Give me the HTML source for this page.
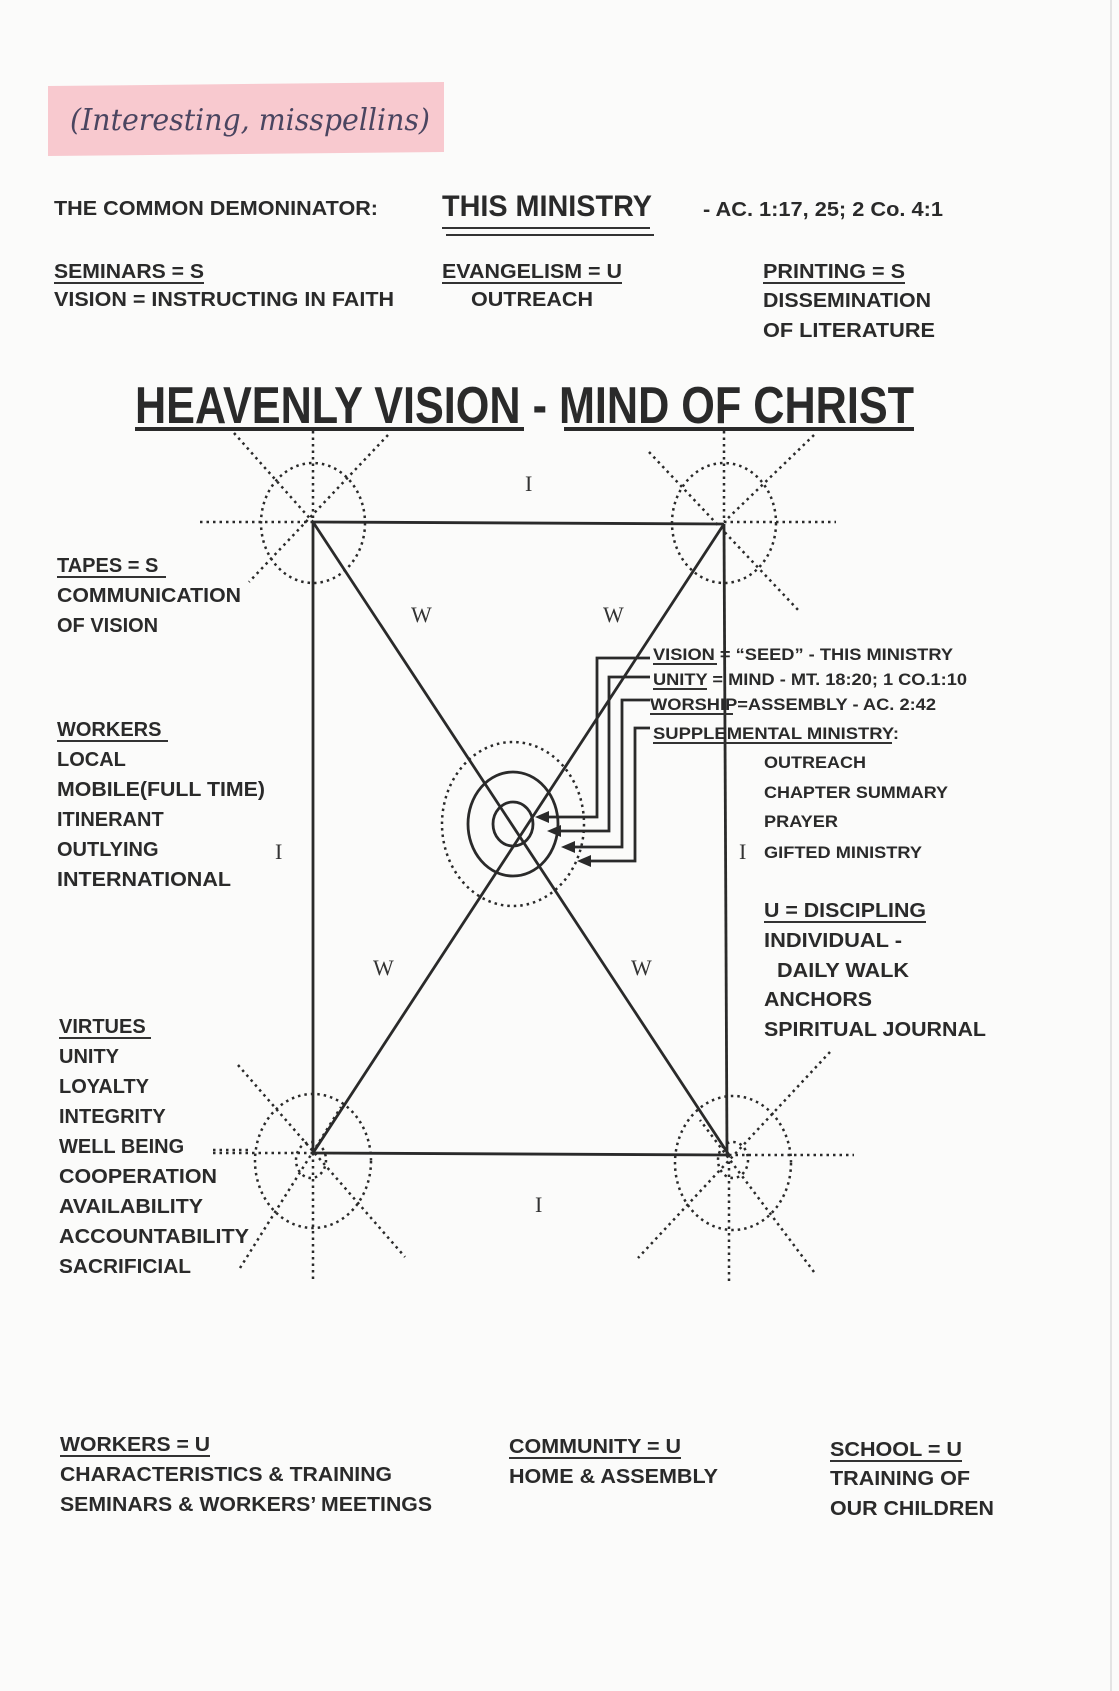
<!DOCTYPE html>
<html><head><meta charset="utf-8"><style>
html,body{margin:0;padding:0;background:#fbfbfa;}
svg{display:block;}
text{font-family:"Liberation Sans",Arial,sans-serif;fill:#2a2a2a;}
.t{font-size:20px;font-weight:bold;}
.s{font-size:17px;font-weight:bold;}
.r{font-family:"Liberation Serif",serif;font-size:22px;font-weight:normal;fill:#333;}
</style></head><body>
<svg width="1119" height="1691" viewBox="0 0 1119 1691" xmlns="http://www.w3.org/2000/svg">
<rect width="1119" height="1691" fill="#fbfbfa"/>
<line x1="1111" y1="0" x2="1111" y2="1691" stroke="#e4e4e4" stroke-width="2"/>
<polygon points="48,86 444,82 444,152 48,156" fill="#f8c9cf"/>
<text x="70" y="130" style="font-family:'DejaVu Serif',serif;font-style:italic;font-size:30px;fill:#4a4560" textLength="360" lengthAdjust="spacingAndGlyphs">(Interesting, misspellins)</text>

<text class="t" x="54" y="215" textLength="324" lengthAdjust="spacingAndGlyphs">THE COMMON DEMONINATOR:</text>
<text x="442" y="216" style="font-size:30px;font-weight:bold" textLength="210" lengthAdjust="spacingAndGlyphs">THIS MINISTRY</text>
<line x1="442" y1="228" x2="650" y2="228" stroke="#333" stroke-width="2"/>
<line x1="446" y1="235" x2="654" y2="235" stroke="#333" stroke-width="2"/>
<text class="t" x="703" y="216" textLength="240" lengthAdjust="spacingAndGlyphs">- AC. 1:17, 25; 2 Co. 4:1</text>

<text class="t" x="54" y="278" textLength="150" lengthAdjust="spacingAndGlyphs">SEMINARS = S</text>
<line x1="54" y1="283" x2="204" y2="283" stroke="#333" stroke-width="2"/>
<text class="t" x="54" y="306" textLength="340" lengthAdjust="spacingAndGlyphs">VISION = INSTRUCTING IN FAITH</text>
<text class="t" x="442" y="278" textLength="180" lengthAdjust="spacingAndGlyphs">EVANGELISM = U</text>
<line x1="442" y1="283" x2="622" y2="283" stroke="#333" stroke-width="2"/>
<text class="t" x="471" y="306" textLength="122" lengthAdjust="spacingAndGlyphs">OUTREACH</text>
<text class="t" x="763" y="278" textLength="142" lengthAdjust="spacingAndGlyphs">PRINTING = S</text>
<line x1="763" y1="283" x2="905" y2="283" stroke="#333" stroke-width="2"/>
<text class="t" x="763" y="307" textLength="168" lengthAdjust="spacingAndGlyphs">DISSEMINATION</text>
<text class="t" x="763" y="337" textLength="172" lengthAdjust="spacingAndGlyphs">OF LITERATURE</text>

<text x="135" y="423" style="font-size:52px;font-weight:bold" textLength="779" lengthAdjust="spacingAndGlyphs">HEAVENLY VISION - MIND OF CHRIST</text>
<line x1="135" y1="429" x2="524" y2="429" stroke="#2a2a2a" stroke-width="4"/>
<line x1="564" y1="429" x2="914" y2="429" stroke="#2a2a2a" stroke-width="4"/>

<g fill="none" stroke="#2a2a2a" stroke-width="2.5" stroke-dasharray="2.5 4">
  <ellipse cx="313" cy="523" rx="52" ry="60"/>
  <line x1="313" y1="431" x2="313" y2="522"/>
  <line x1="200" y1="522" x2="313" y2="522"/>
  <line x1="234" y1="433" x2="313" y2="522"/>
  <line x1="388" y1="435" x2="249" y2="582"/>
  <ellipse cx="724" cy="523" rx="52" ry="60"/>
  <line x1="724" y1="431" x2="724" y2="522"/>
  <line x1="724" y1="522" x2="836" y2="522"/>
  <line x1="649" y1="452" x2="800" y2="612"/>
  <line x1="814" y1="435" x2="724" y2="522"/>
  <ellipse cx="313" cy="1161" rx="58" ry="67"/>
  <ellipse cx="311" cy="1160" rx="15" ry="18"/>
  <line x1="313" y1="1153" x2="313" y2="1283"/>
  <line x1="213" y1="1153" x2="313" y2="1153"/>
  <line x1="238" y1="1065" x2="405" y2="1257"/>
  <line x1="240" y1="1268" x2="341" y2="1107"/>
  <ellipse cx="733" cy="1163" rx="58" ry="67"/>
  <ellipse cx="733" cy="1160" rx="15" ry="18"/>
  <line x1="729" y1="1155" x2="729" y2="1285"/>
  <line x1="729" y1="1155" x2="854" y2="1155"/>
  <line x1="830" y1="1052" x2="638" y2="1258"/>
  <line x1="814" y1="1272" x2="700" y2="1120"/>
  <ellipse cx="513" cy="824" rx="71" ry="82"/>
</g>

<g fill="none" stroke="#2a2a2a" stroke-width="2.8">
  <line x1="313" y1="522" x2="724" y2="524"/>
  <line x1="313" y1="1153" x2="729" y2="1155"/>
  <line x1="313" y1="522" x2="313" y2="1153"/>
  <line x1="724" y1="524" x2="727" y2="1155"/>
  <line x1="313" y1="522" x2="729" y2="1155"/>
  <line x1="724" y1="524" x2="313" y2="1153"/>
  <ellipse cx="513" cy="824" rx="45" ry="52"/>
  <ellipse cx="513" cy="824" rx="20" ry="22"/>
  <polyline points="650,658 597,658 597,817 540,817"/>
  <polyline points="650,677 609,677 609,831 552,831"/>
  <polyline points="650,700 622,700 622,847 566,847"/>
  <polyline points="650,728 635,728 635,861 582,861"/>
</g>
<g fill="#2a2a2a">
  <polygon points="535,817 549,811 549,823"/>
  <polygon points="547,831 561,825 561,837"/>
  <polygon points="561,847 575,841 575,853"/>
  <polygon points="577,861 591,855 591,867"/>
</g>

<text class="r" x="525" y="491">I</text>
<text class="r" x="275" y="859">I</text>
<text class="r" x="739" y="859">I</text>
<text class="r" x="535" y="1212">I</text>
<text class="r" x="411" y="622">W</text>
<text class="r" x="603" y="622">W</text>
<text class="r" x="373" y="975">W</text>
<text class="r" x="631" y="975">W</text>

<text class="t" x="57" y="572">TAPES = S</text>
<line x1="57" y1="577" x2="166" y2="577" stroke="#333" stroke-width="2"/>
<text class="t" x="57" y="602" textLength="184" lengthAdjust="spacingAndGlyphs">COMMUNICATION</text>
<text class="t" x="57" y="632">OF VISION</text>

<text class="t" x="57" y="736">WORKERS</text>
<line x1="57" y1="741" x2="168" y2="741" stroke="#333" stroke-width="2"/>
<text class="t" x="57" y="766">LOCAL</text>
<text class="t" x="57" y="796" textLength="208" lengthAdjust="spacingAndGlyphs">MOBILE(FULL TIME)</text>
<text class="t" x="57" y="826">ITINERANT</text>
<text class="t" x="57" y="856">OUTLYING</text>
<text class="t" x="57" y="886" textLength="174" lengthAdjust="spacingAndGlyphs">INTERNATIONAL</text>

<text class="t" x="59" y="1033">VIRTUES</text>
<line x1="59" y1="1038" x2="151" y2="1038" stroke="#333" stroke-width="2"/>
<text class="t" x="59" y="1063">UNITY</text>
<text class="t" x="59" y="1093">LOYALTY</text>
<text class="t" x="59" y="1123">INTEGRITY</text>
<text class="t" x="59" y="1153">WELL BEING</text>
<line x1="213" y1="1150" x2="250" y2="1150" stroke="#2a2a2a" stroke-width="2.5" stroke-dasharray="2.5 4"/>
<text class="t" x="59" y="1183" textLength="158" lengthAdjust="spacingAndGlyphs">COOPERATION</text>
<text class="t" x="59" y="1213" textLength="144" lengthAdjust="spacingAndGlyphs">AVAILABILITY</text>
<text class="t" x="59" y="1243" textLength="190" lengthAdjust="spacingAndGlyphs">ACCOUNTABILITY</text>
<text class="t" x="59" y="1273" textLength="132" lengthAdjust="spacingAndGlyphs">SACRIFICIAL</text>

<text class="s" x="653" y="660" textLength="300" lengthAdjust="spacingAndGlyphs">VISION = “SEED” - THIS MINISTRY</text>
<line x1="653" y1="664" x2="717" y2="664" stroke="#333" stroke-width="2"/>
<text class="s" x="653" y="685" textLength="314" lengthAdjust="spacingAndGlyphs">UNITY = MIND - MT. 18:20; 1 CO.1:10</text>
<line x1="653" y1="689" x2="707" y2="689" stroke="#333" stroke-width="2"/>
<text class="s" x="650" y="710" textLength="286" lengthAdjust="spacingAndGlyphs">WORSHIP=ASSEMBLY - AC. 2:42</text>
<line x1="650" y1="714" x2="733" y2="714" stroke="#333" stroke-width="2"/>
<text class="s" x="653" y="739" textLength="246" lengthAdjust="spacingAndGlyphs">SUPPLEMENTAL MINISTRY:</text>
<line x1="653" y1="743" x2="892" y2="743" stroke="#333" stroke-width="2"/>
<text class="s" x="764" y="768" textLength="102" lengthAdjust="spacingAndGlyphs">OUTREACH</text>
<text class="s" x="764" y="798" textLength="184" lengthAdjust="spacingAndGlyphs">CHAPTER SUMMARY</text>
<text class="s" x="764" y="827" textLength="74" lengthAdjust="spacingAndGlyphs">PRAYER</text>
<text class="s" x="764" y="858" textLength="158" lengthAdjust="spacingAndGlyphs">GIFTED MINISTRY</text>

<text class="t" x="764" y="917" textLength="162" lengthAdjust="spacingAndGlyphs">U = DISCIPLING</text>
<line x1="764" y1="922" x2="926" y2="922" stroke="#333" stroke-width="2"/>
<text class="t" x="764" y="947" textLength="138" lengthAdjust="spacingAndGlyphs">INDIVIDUAL -</text>
<text class="t" x="777" y="977" textLength="132" lengthAdjust="spacingAndGlyphs">DAILY WALK</text>
<text class="t" x="764" y="1006" textLength="108" lengthAdjust="spacingAndGlyphs">ANCHORS</text>
<text class="t" x="764" y="1036" textLength="222" lengthAdjust="spacingAndGlyphs">SPIRITUAL JOURNAL</text>

<text class="t" x="60" y="1451" textLength="150" lengthAdjust="spacingAndGlyphs">WORKERS = U</text>
<line x1="60" y1="1456" x2="210" y2="1456" stroke="#333" stroke-width="2"/>
<text class="t" x="60" y="1481" textLength="332" lengthAdjust="spacingAndGlyphs">CHARACTERISTICS &amp; TRAINING</text>
<text class="t" x="60" y="1511" textLength="372" lengthAdjust="spacingAndGlyphs">SEMINARS &amp; WORKERS’ MEETINGS</text>
<text class="t" x="509" y="1453" textLength="172" lengthAdjust="spacingAndGlyphs">COMMUNITY = U</text>
<line x1="509" y1="1458" x2="681" y2="1458" stroke="#333" stroke-width="2"/>
<text class="t" x="509" y="1483" textLength="209" lengthAdjust="spacingAndGlyphs">HOME &amp; ASSEMBLY</text>
<text class="t" x="830" y="1456" textLength="132" lengthAdjust="spacingAndGlyphs">SCHOOL = U</text>
<line x1="830" y1="1461" x2="962" y2="1461" stroke="#333" stroke-width="2"/>
<text class="t" x="830" y="1485" textLength="140" lengthAdjust="spacingAndGlyphs">TRAINING OF</text>
<text class="t" x="830" y="1515" textLength="164" lengthAdjust="spacingAndGlyphs">OUR CHILDREN</text>
</svg>
</body></html>
